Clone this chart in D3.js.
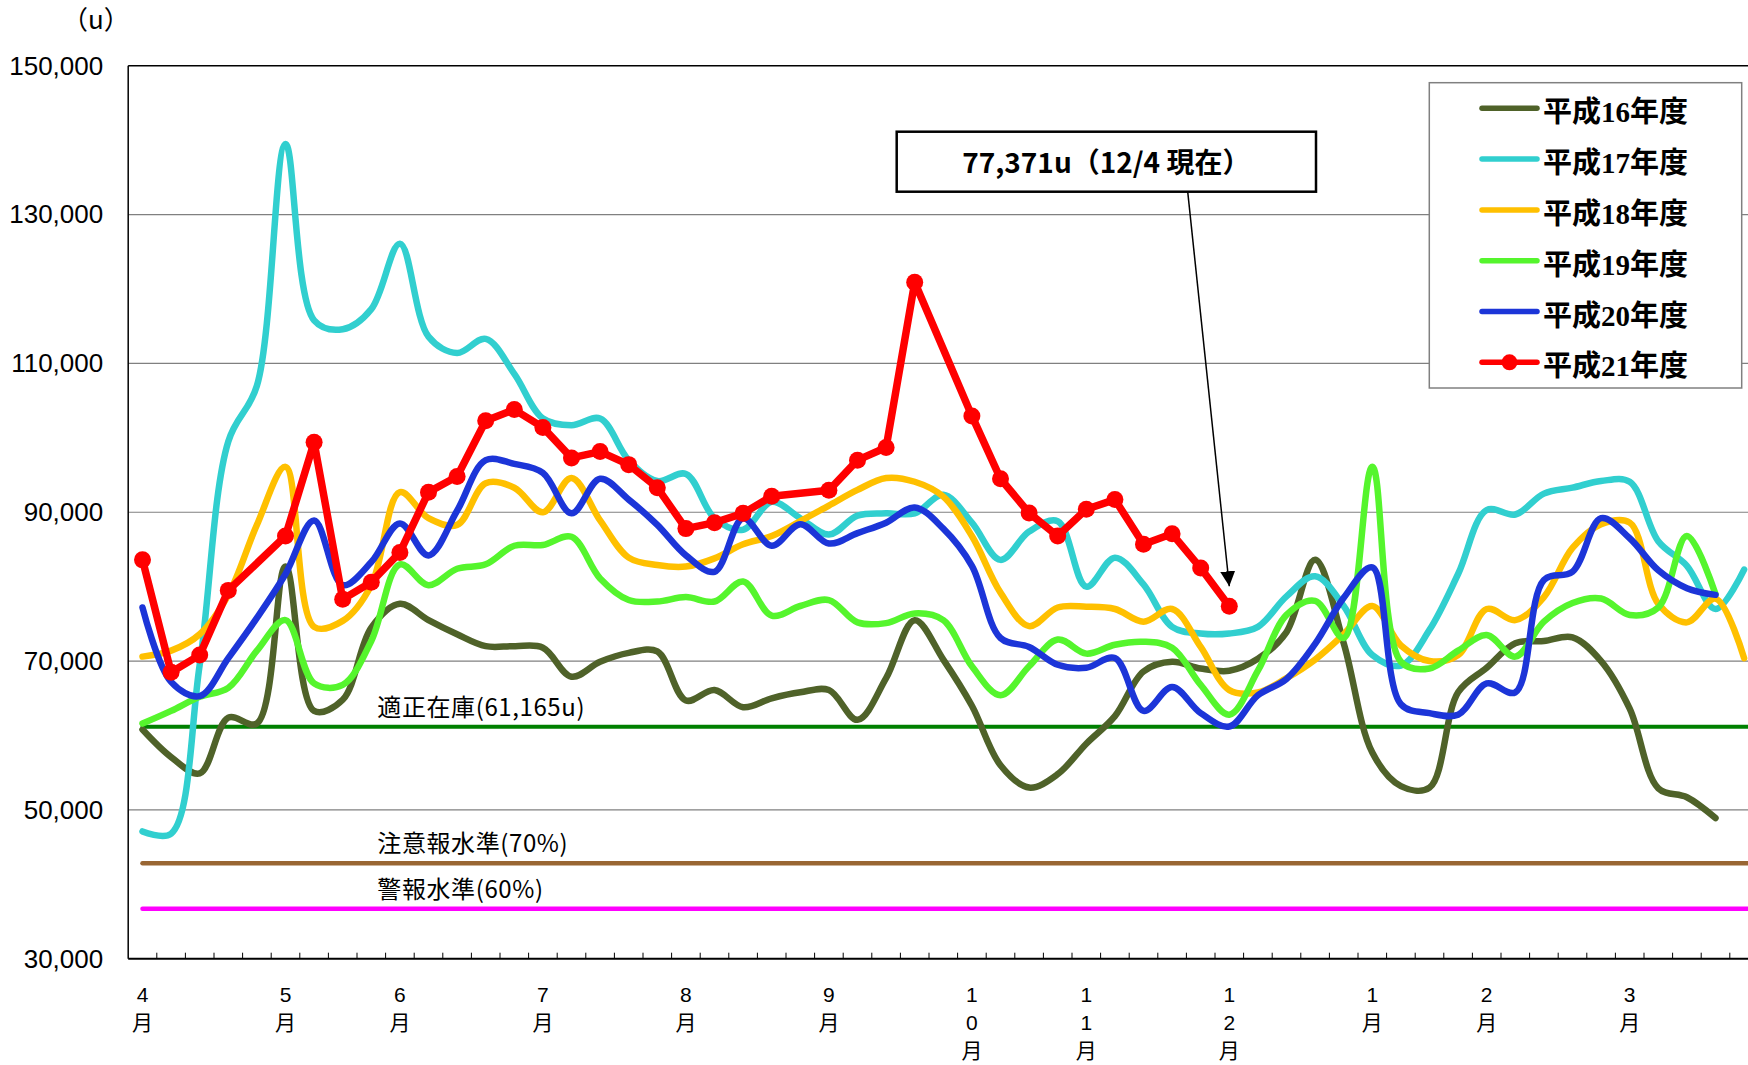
<!DOCTYPE html>
<html>
<head>
<meta charset="utf-8">
<script src="https://cdn.jsdelivr.net/npm/d3@7"></script>
<style>
  body { margin: 0; background: #fff; }
  svg { display: block; }
</style>
</head>
<body>
<svg id="chart" width="1748" height="1065"></svg>
<script>
// weekly stock (u), fiscal year starts in April
var weekCount = 58;
var monthWeeks  = [0, 5, 9, 14, 19, 24, 29, 33, 38, 43, 47, 52];
var monthLabels = ["4月", "5月", "6月", "7月", "8月", "9月", "10月", "11月", "12月", "1月", "2月", "3月"];
var yTicks = [30000, 50000, 70000, 90000, 110000, 130000, 150000];

var seriesNames  = ["平成16年度", "平成17年度", "平成18年度", "平成19年度", "平成20年度", "平成21年度"];
var seriesColors = ["#4f6229", "#31cfcf", "#ffc000", "#55f52d", "#1c35d8", "#ff0000"];

var h16 = [60800, 57100, 54900, 62400, 61600, 82700, 63300, 64800, 74500, 77700, 75500, 73600, 72000, 72000, 71800,
           67900, 69900, 71100, 71300, 64700, 66100, 63800, 65000, 65800, 66100, 62100, 67700, 75500, 70200, 64000,
           56000, 53000, 54800, 58900, 62600, 68600, 69900, 69000, 68700, 70300, 73900, 83600, 72400, 57700, 53200,
           53000, 65800, 69100, 72400, 72700, 73200, 70000, 63600, 52900, 51700, 48900];
var h17 = [47100, 46800, 69500, 99500, 107000, 139500, 115800, 114600, 117300, 126100, 113600, 111400, 113300, 108600, 102600,
           101700, 102600, 97000, 94200, 95150, 89200, 87650, 91400, 89200, 87000, 89550, 89850, 89850, 92350, 88600,
           83600, 87400, 88800, 80000, 83900, 80300, 74600, 73700, 73700, 74600, 78700, 81400, 77400, 70800, 69400,
           74200, 81700, 90300, 89700, 92500, 93300, 94200, 94100, 86100, 82800, 77000, 82300];
var h18 = [70600, 71400, 73600, 78900, 88300, 96100, 74600, 75400, 80200, 92700, 89200, 88300, 93900, 93300, 90000,
           94600, 88900, 83900, 82900, 82700, 83800, 85700, 86800, 88800, 90900, 93000, 94600, 94100, 92100, 86800,
           79200, 74700, 77200, 77300, 77000, 75300, 77000, 71900, 66100, 65800, 67700, 70200, 73600, 77400, 72100,
           70000, 70800, 77000, 75500, 78600, 85200, 88400, 88600, 77700, 75200, 78400, 70400];
var h19 = [61600, 63300, 65200, 66400, 71400, 75500, 67000, 66800, 72700, 83000, 80200, 82400, 83000, 85500, 85600,
           86700, 81100, 78200, 78000, 78600, 78000, 80700, 76100, 77400, 78200, 75200, 75100, 76400, 75500, 69300,
           65400, 69300, 72900, 71000, 72200, 72600, 71800, 66800, 62800, 68700, 76200, 78100, 73100, 96100, 69900,
           69000, 71400, 73500, 70600, 75300, 77800, 78400, 76200, 77200, 86800, 79000];
var h20 = [77200, 67200, 65300, 70400, 75800, 81700, 88900, 80200, 83300, 88500, 84200, 90200, 97000, 96500, 95300,
           89850, 94500, 91700, 88300, 84200, 82000, 89200, 85500, 88400, 85800, 87200, 88600, 90650, 87800, 82800,
           73100, 71900, 69500, 69100, 70400, 63300, 66500, 63000, 61200, 65400, 67600, 72300, 78500, 82600, 64200,
           63000, 62800, 67000, 65800, 80900, 82000, 89200, 86500, 82200, 79800, 78900];
// current year, null = no reading that week
var h21 = [83600, 68500, 70800, 79500, null, 86800, 99400, 78300, 80600, 84600, 92700, 94800, 102300, 103800, 101400,
           97300, 98150, 96400, 93300, 87800, 88600, 89850, 92150, null, 92950, 97000, 98700, 120900, null, 102950,
           94500, 89900, 86800, 90400, 91700, 85700, 87100, 82500, 77371];

var properStock = 61165;
var levels = [
  {name: "適正在庫(61,165u)", ratio: 1.0, color: "#008000", width: 4},
  {name: "注意報水準(70%)", ratio: 0.7, color: "#996633", width: 4.5},
  {name: "警報水準(60%)",   ratio: 0.6, color: "#ff00ff", width: 4.5}
];
var latestText = "77,371u（12/4 現在）";

var svg = d3.select("svg#chart");
var plotLeft = 128.2, plotTop = 65.8, plotBottom = 958.7, band = 28.6;

var x = d3.scaleBand().domain(d3.range(weekCount)).range([plotLeft, plotLeft + band * weekCount]);
var xc = function(i) { return x(i) + x.bandwidth() / 2; };
var y = d3.scaleLinear().domain([30000, 150000]).range([plotBottom, plotTop]);
var plotRight = plotLeft + band * weekCount;

svg.append("rect").attr("width", 1748).attr("height", 1065).attr("fill", "#fff");

// gridlines
svg.append("g").selectAll("line")
  .data(yTicks.slice(1, -1))
  .enter().append("line")
  .attr("x1", plotLeft).attr("x2", plotRight)
  .attr("y1", d => y(d)).attr("y2", d => y(d))
  .attr("stroke", "#808080").attr("stroke-width", 1.2);

// frame
svg.append("line").attr("x1", plotLeft).attr("x2", plotRight).attr("y1", plotTop).attr("y2", plotTop)
  .attr("stroke", "#000").attr("stroke-width", 1.5);
svg.append("line").attr("x1", plotLeft).attr("x2", plotRight).attr("y1", plotBottom).attr("y2", plotBottom)
  .attr("stroke", "#000").attr("stroke-width", 2);
svg.append("line").attr("x1", plotLeft).attr("x2", plotLeft).attr("y1", plotTop).attr("y2", plotBottom)
  .attr("stroke", "#000").attr("stroke-width", 1.5);

// y axis labels
var yAxis = d3.axisLeft(y).tickValues(yTicks).tickFormat(d3.format(",")).tickSize(0).tickPadding(25);
var yG = svg.append("g").attr("transform", "translate(" + plotLeft + ",0)").call(yAxis);
yG.select(".domain").remove();
yG.selectAll("text")
  .style("font-family", "'Liberation Sans', Arial, sans-serif")
  .style("font-size", "26px").attr("fill", "#000");

svg.append("text").attr("x", 62).attr("y", 29)
  .style("font-family", "'Noto Sans CJK JP', sans-serif").style("font-size", "26px")
  .text("（u）");

// week ticks on the bottom axis
svg.append("g").selectAll("line")
  .data(d3.range(1, weekCount))
  .enter().append("line")
  .attr("x1", d => x(d)).attr("x2", d => x(d))
  .attr("y1", plotBottom).attr("y2", plotBottom - 6)
  .attr("stroke", "#000").attr("stroke-width", 1);

// month labels, one character per line
var mLab = svg.append("g")
  .style("font-family", "'Liberation Sans', 'Noto Sans CJK JP', sans-serif")
  .style("font-size", "21px")
  .attr("text-anchor", "middle");
monthWeeks.forEach(function(w, k) {
  var t = mLab.append("text").attr("y", 1002);
  monthLabels[k].split("").forEach(function(ch, j) {
    t.append("tspan").attr("x", xc(w)).attr("dy", j === 0 ? 0 : 28).text(ch);
  });
});

// reference levels
levels.forEach(function(l) {
  var v = properStock * l.ratio;
  svg.append("line")
    .attr("x1", xc(0)).attr("x2", plotRight)
    .attr("y1", y(v)).attr("y2", y(v))
    .attr("stroke", l.color).attr("stroke-width", l.width)
    .attr("stroke-linecap", "round");
  svg.append("text")
    .attr("x", xc(8) + 6).attr("y", y(v) - 11)
    .style("font-family", "'Noto Sans CJK JP', sans-serif")
    .style("font-size", "24px").style("letter-spacing", "0.6px")
    .text(l.name);
});

// past years, smoothed
var smooth = d3.line()
  .x(d => xc(d.i)).y(d => y(d.v))
  .curve(d3.curveCatmullRom.alpha(0.5));

[h16, h17, h18, h19, h20].forEach(function(vals, s) {
  var pts = vals.map((v, i) => ({i: i, v: v}));
  svg.append("path")
    .attr("d", smooth(pts))
    .attr("fill", "none")
    .attr("stroke", seriesColors[s])
    .attr("stroke-width", 6.5)
    .attr("stroke-linecap", "round")
    .attr("stroke-linejoin", "round");
});

// current year: straight segments with markers
var cur = h21.map((v, i) => ({i: i, v: v})).filter(d => d.v != null);
var straight = d3.line().x(d => xc(d.i)).y(d => y(d.v));
svg.append("path")
  .attr("d", straight(cur))
  .attr("fill", "none")
  .attr("stroke", seriesColors[5])
  .attr("stroke-width", 7.5)
  .attr("stroke-linejoin", "round");
svg.append("g").selectAll("circle")
  .data(cur)
  .enter().append("circle")
  .attr("cx", d => xc(d.i)).attr("cy", d => y(d.v))
  .attr("r", 8.5).attr("fill", seriesColors[5]);

// callout for the latest reading
var last = cur[cur.length - 1];
var box = {x: 896.7, y: 131.7, w: 419.3, h: 60};
svg.append("defs").append("marker")
  .attr("id", "arrow").attr("viewBox", "0 0 10 10")
  .attr("refX", 10).attr("refY", 5)
  .attr("markerWidth", 15).attr("markerHeight", 15)
  .attr("markerUnits", "userSpaceOnUse")
  .attr("orient", "auto")
  .append("path").attr("d", "M0,0L10,5L0,10Z").attr("fill", "#000");
svg.append("line")
  .attr("x1", 1187.7).attr("y1", box.y + box.h)
  .attr("x2", xc(last.i)).attr("y2", y(last.v) - 20)
  .attr("stroke", "#000").attr("stroke-width", 1.5)
  .attr("marker-end", "url(#arrow)");
svg.append("rect")
  .attr("x", box.x).attr("y", box.y).attr("width", box.w).attr("height", box.h)
  .attr("fill", "#fff").attr("stroke", "#000").attr("stroke-width", 2.5);
svg.append("text")
  .attr("x", box.x + box.w / 2).attr("y", box.y + 41)
  .attr("text-anchor", "middle")
  .style("font-family", "'Noto Sans CJK JP', sans-serif")
  .style("font-size", "28px").style("font-weight", "bold")
  .text(latestText);

// legend
var lg = svg.append("g");
lg.append("rect")
  .attr("x", 1429.3).attr("y", 82.7).attr("width", 312.4).attr("height", 305.3)
  .attr("fill", "#fff").attr("stroke", "#808080").attr("stroke-width", 1.5);
seriesNames.forEach(function(name, k) {
  var ly = 108.3 + 50.8 * k;
  lg.append("line")
    .attr("x1", 1482).attr("x2", 1537).attr("y1", ly).attr("y2", ly)
    .attr("stroke", seriesColors[k]).attr("stroke-width", 5.5)
    .attr("stroke-linecap", "round");
  if (k === 5) {
    lg.append("circle").attr("cx", 1509.5).attr("cy", ly).attr("r", 8).attr("fill", seriesColors[k]);
  }
  lg.append("text")
    .attr("x", 1543).attr("y", ly + 14)
    .style("font-family", "'Liberation Serif', 'Noto Sans CJK JP', serif")
    .style("font-size", "29px").style("font-weight", "bold")
    .text(name);
});
</script>
</body>
</html>
